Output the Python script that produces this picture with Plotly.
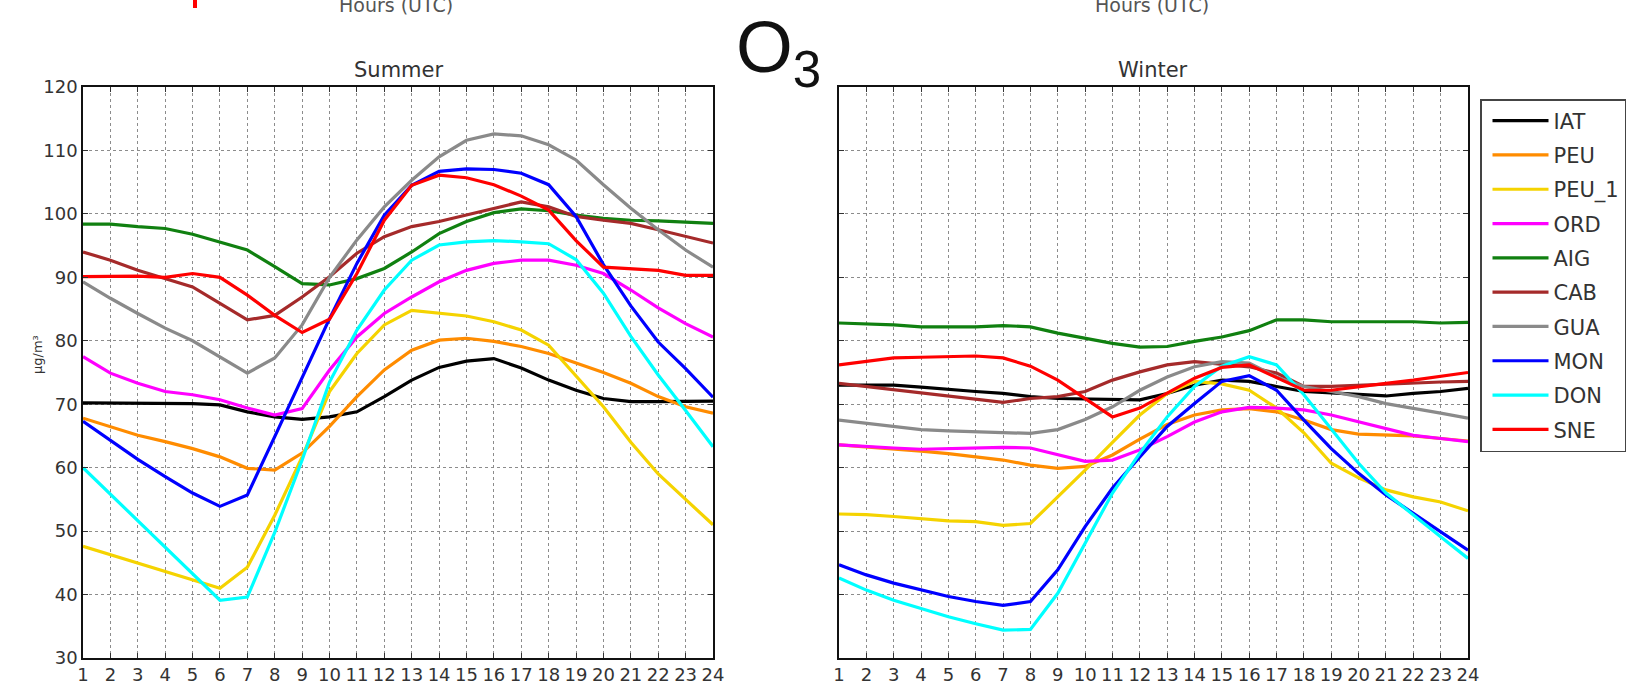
import plotly.graph_objects as go

hours = list(range(1, 25))
hour_labels = [str(h) for h in hours]
y_ticks = [30, 40, 50, 60, 70, 80, 90, 100, 110, 120]

stations = ["IAT", "PEU", "PEU_1", "ORD", "AIG", "CAB", "GUA", "MON", "DON", "SNE"]
colors = ["#000000", "#FF8C00", "#F5D300", "#FF00FF", "#108010",
          "#A52A2A", "#8A8A8A", "#0000FF", "#00FFFF", "#FF0000"]

# ---- Summer (µg/m³) ----
iat_summer = [70.2, 70.2, 70.2, 70.2, 70.1, 69.9, 68.8, 68.0, 67.6, 68.0, 68.8, 71.2,
              73.8, 75.8, 76.8, 77.2, 75.7, 73.8, 72.2, 70.9, 70.4, 70.4, 70.4, 70.5]
peu_summer = [67.8, 66.5, 65.1, 64.1, 63.0, 61.7, 59.9, 59.6, 62.3, 66.5, 71.2, 75.4,
              78.5, 80.1, 80.4, 79.9, 79.1, 78.0, 76.5, 75.0, 73.3, 71.2, 69.6, 68.6]
peu1_summer = [47.6, 46.3, 45.0, 43.7, 42.4, 41.0, 44.3, 52.5, 61.7, 72.0, 78.0, 82.5,
               84.8, 84.4, 83.9, 83.0, 81.7, 79.3, 74.5, 69.6, 64.0, 59.0, 55.0, 51.0]
ord_summer = [77.5, 74.9, 73.3, 72.0, 71.5, 70.7, 69.4, 68.3, 69.3, 75.4, 80.6, 84.3,
              86.9, 89.3, 91.1, 92.2, 92.7, 92.7, 91.9, 90.6, 88.0, 85.2, 82.7, 80.6]
aig_summer = [98.4, 98.4, 98.0, 97.7, 96.8, 95.5, 94.3, 91.7, 89.0, 88.8, 89.8, 91.4,
              94.0, 96.9, 98.8, 100.2, 100.8, 100.5, 99.8, 99.3, 99.0, 98.9, 98.7, 98.5]
cab_summer = [94.0, 92.7, 91.1, 89.8, 88.5, 85.9, 83.3, 84.0, 86.9, 90.1, 93.8, 96.4,
              98.0, 98.8, 99.8, 100.9, 101.9, 101.1, 99.6, 99.0, 98.5, 97.5, 96.4, 95.4]
gua_summer = [89.3, 86.7, 84.3, 82.0, 80.0, 77.5, 74.9, 77.3, 82.5, 90.0, 95.9, 101.1,
              105.3, 109.0, 111.6, 112.6, 112.3, 110.9, 108.5, 104.6, 100.9, 97.5, 94.3, 91.6]
mon_summer = [67.3, 64.3, 61.3, 58.6, 56.0, 53.9, 55.7, 64.9, 74.3, 83.5, 92.2, 99.8,
              104.5, 106.7, 107.1, 107.0, 106.4, 104.6, 99.6, 92.0, 85.5, 79.8, 75.6, 71.1]
don_summer = [60.0, 55.8, 51.6, 47.4, 43.2, 39.1, 39.6, 49.8, 61.2, 73.5, 81.7, 88.0,
              92.7, 95.1, 95.6, 95.8, 95.6, 95.3, 92.8, 87.5, 80.7, 74.6, 69.0, 63.3]
sne_summer = [90.1, 90.1, 90.2, 90.0, 90.6, 90.0, 87.2, 84.0, 81.3, 83.4, 90.6, 99.0,
              104.5, 106.1, 105.7, 104.6, 102.8, 100.6, 95.8, 91.6, 91.4, 91.1, 90.3, 90.3]

# ---- Winter (µg/m³) ----
iat_winter = [73.0, 73.0, 73.0, 72.7, 72.3, 72.0, 71.7, 71.2, 70.9, 70.8, 70.7, 70.7,
              71.7, 73.0, 73.8, 73.6, 72.8, 72.0, 71.8, 71.5, 71.3, 71.7, 72.0, 72.5]
peu_winter = [63.6, 63.3, 63.0, 62.6, 62.2, 61.7, 61.2, 60.4, 59.9, 60.2, 62.0, 64.5,
              66.8, 68.3, 69.1, 69.3, 68.8, 67.5, 66.0, 65.3, 65.1, 65.0, 64.6, 64.2]
peu1_winter = [52.7, 52.6, 52.3, 51.9, 51.6, 51.5, 50.9, 51.2, 55.4, 59.6, 64.0, 68.3,
               71.7, 73.6, 73.2, 72.2, 69.4, 65.5, 60.7, 58.4, 56.5, 55.4, 54.6, 53.2]
ord_winter = [63.6, 63.3, 63.1, 62.9, 63.0, 63.2, 63.2, 63.1, 62.0, 61.0, 61.2, 62.8,
              64.9, 67.2, 68.8, 69.5, 69.4, 69.1, 68.3, 67.2, 66.2, 65.1, 64.6, 64.1]
aig_winter = [82.8, 82.7, 82.5, 82.2, 82.2, 82.2, 82.4, 82.2, 81.2, 80.4, 79.6, 79.0,
              79.1, 79.9, 80.6, 81.6, 83.3, 83.3, 83.0, 83.0, 83.0, 83.0, 82.8, 82.9]
cab_winter = [73.3, 72.8, 72.2, 71.7, 71.2, 70.7, 70.3, 70.9, 71.2, 72.0, 73.8, 75.1,
              76.2, 76.7, 76.3, 75.9, 74.9, 72.8, 72.8, 73.0, 73.2, 73.4, 73.5, 73.6]
gua_winter = [67.5, 67.0, 66.5, 66.0, 65.8, 65.7, 65.5, 65.4, 66.0, 67.6, 69.6, 72.2,
              74.3, 75.9, 76.7, 76.5, 74.3, 72.8, 72.0, 71.2, 70.1, 69.4, 68.6, 67.8]
mon_winter = [44.7, 43.1, 41.8, 40.7, 39.7, 38.9, 38.3, 38.9, 43.9, 50.7, 56.8, 61.7,
              66.5, 70.1, 73.6, 74.5, 72.2, 67.5, 63.0, 59.1, 55.7, 52.8, 49.9, 47.0]
don_winter = [42.6, 40.7, 39.1, 37.8, 36.5, 35.4, 34.4, 34.5, 40.2, 48.1, 56.0, 62.3,
              68.0, 72.8, 76.0, 77.5, 76.2, 71.5, 66.0, 60.7, 56.0, 52.5, 49.1, 45.7]
sne_winter = [76.2, 76.7, 77.3, 77.4, 77.5, 77.6, 77.3, 76.0, 73.8, 70.9, 68.0, 69.4,
              71.8, 74.1, 75.8, 76.2, 74.2, 72.2, 72.2, 72.8, 73.3, 73.8, 74.4, 75.0]

summer = [iat_summer, peu_summer, peu1_summer, ord_summer, aig_summer,
          cab_summer, gua_summer, mon_summer, don_summer, sne_summer]
winter = [iat_winter, peu_winter, peu1_winter, ord_winter, aig_winter,
          cab_winter, gua_winter, mon_winter, don_winter, sne_winter]

W, H = 1635, 687
FONT = "DejaVu Sans"

def px_x(p):
    return p / W

def px_y(p):
    return 1 - p / H

fig = go.Figure()
for i, name in enumerate(stations):
    fig.add_trace(go.Scatter(x=hours, y=summer[i], mode="lines", name=name,
                             legendgroup=name, showlegend=False,
                             line=dict(color=colors[i], width=3.2),
                             xaxis="x", yaxis="y"))
for i, name in enumerate(stations):
    fig.add_trace(go.Scatter(x=hours, y=winter[i], mode="lines", name=name,
                             legendgroup=name, showlegend=True,
                             line=dict(color=colors[i], width=3.2),
                             xaxis="x2", yaxis="y2"))

axis_common = dict(
    showgrid=True, gridcolor="#8c8c8c", griddash="dot", gridwidth=1,
    showline=True, linecolor="#111111", linewidth=1.5, mirror="allticks",
    ticks="inside", ticklen=5, tickcolor="#333333", zeroline=False,
    automargin=False,
    tickfont=dict(family=FONT, size=18, color="#333333"),
)

fig.update_layout(
    width=W, height=H,
    margin=dict(l=0, r=0, t=0, b=0, pad=0, autoexpand=False),
    paper_bgcolor="white", plot_bgcolor="white",
    xaxis=dict(domain=[px_x(83), px_x(713)], range=[1, 24], tickmode="array",
               tickvals=hours, ticktext=hour_labels, anchor="y", **axis_common),
    yaxis=dict(domain=[px_y(658), px_y(87)], range=[30, 120], tickmode="array",
               tickvals=y_ticks, anchor="x", **axis_common),
    xaxis2=dict(domain=[px_x(839), px_x(1468)], range=[1, 24], tickmode="array",
                tickvals=hours, ticktext=hour_labels, anchor="y2", **axis_common),
    yaxis2=dict(domain=[px_y(658), px_y(87)], range=[30, 120], tickmode="array",
                tickvals=y_ticks, anchor="x2", showticklabels=False, **axis_common),
    showlegend=True,
    legend=dict(xref="container", yref="container",
                x=px_x(1480), y=px_y(99), xanchor="left", yanchor="top",
                bordercolor="#444444", borderwidth=1.5, bgcolor="white",
                font=dict(family=FONT, size=21, color="#333333"),
                traceorder="grouped", tracegroupgap=4, itemwidth=56,
                indentation=6, maxheight=660),
)

def note(text, x, y, size, xanchor="center", yanchor="middle", color="#333333",
         family=FONT, angle=0):
    return dict(text=text, x=px_x(x), y=px_y(y), xref="paper", yref="paper",
                xanchor=xanchor, yanchor=yanchor, textangle=angle, showarrow=False,
                font=dict(family=family, size=size, color=color))

annotations = [
    note("Summer", 398, 70, 21),
    note("Winter", 1153, 70, 21),
    note("O<sub>3</sub>", 734, 52, 73, xanchor="left", color="#111111",
         family="Liberation Sans"),
    note("µg/m³", 37, 355, 13, angle=-90),
    note("Hours (UTC)", 396, 5, 19, color="#555555"),
    note("Hours (UTC)", 1152, 5, 19, color="#555555"),
]
fig.update_layout(annotations=annotations)

fig.add_shape(type="rect", xref="paper", yref="paper",
              x0=px_x(193), x1=px_x(197), y0=px_y(8), y1=1,
              fillcolor="#FF0000", line=dict(width=0))

fig.write_html(
    "out.html",
    config={"displayModeBar": False},
    post_script="document.body.style.margin='0px';"
                "document.documentElement.style.overflow='hidden';",
)
